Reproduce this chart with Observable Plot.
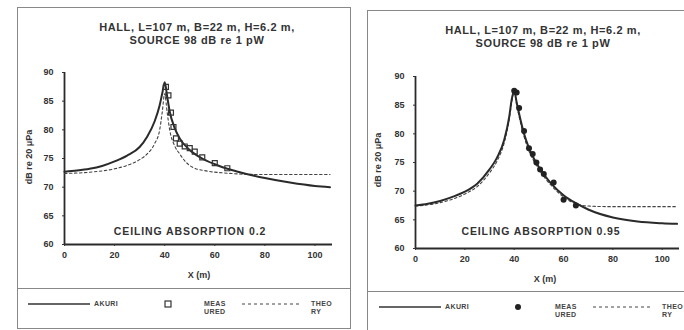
<!DOCTYPE html>
<html><head><meta charset="utf-8">
<script src="https://cdn.jsdelivr.net/npm/d3@7"></script>
<script src="https://cdn.jsdelivr.net/npm/@observablehq/plot@0.6"></script>
<style>
html,body{margin:0;padding:0;background:#fff;width:684px;height:330px;overflow:hidden;font-family:"Liberation Sans",Arial,sans-serif;color:#333;}
.abs{position:absolute;}
.frame{position:absolute;border:1.5px solid #888;box-sizing:border-box;}
.title{position:absolute;text-align:center;font-weight:bold;font-size:11px;line-height:13px;color:#333;letter-spacing:0.6px;white-space:nowrap;}
.note{position:absolute;font-size:10.5px;color:#333;font-weight:bold;white-space:nowrap;transform:translateX(-50%);letter-spacing:0.9px;}
.ylab{position:absolute;font-size:9px;font-weight:bold;color:#333;white-space:nowrap;transform:translate(-50%,-50%) rotate(-90deg);}
.xlab{position:absolute;font-size:9px;font-weight:bold;color:#333;white-space:nowrap;transform:translateX(-50%);}
.lg{position:absolute;font-size:7px;font-weight:bold;color:#444;line-height:8px;letter-spacing:0.4px;}
.sep{position:absolute;height:0;border-top:1.5px solid #888;}
</style></head>
<body>
<script>
// ---- data ----
const xTicks = [0, 20, 40, 60, 80, 100];
const yTicks = [60, 65, 70, 75, 80, 85, 90];

// Left panel: ceiling absorption 0.2
const leftAkuriX = [0,5,10,15,20,25,30,33,36,38,39,40,41,42,44,46,50,55,60,65,70,80,90,100,106];
const leftAkuriY = [72.7,72.9,73.2,73.7,74.5,75.5,77.0,78.8,81.5,84.3,86.3,88.3,85.8,83.2,80.3,78.5,76.5,75.0,74.0,73.2,72.6,71.6,70.8,70.2,70.0];
const leftTheoX = [0,10,20,25,30,33,36,38,39,40,41,42,44,46,48,51,57,63,70,80,106];
const leftTheoY = [72.4,72.6,73.2,73.8,74.8,75.8,77.6,80.0,83.0,86.3,83.0,80.0,77.2,75.8,74.6,73.5,72.8,72.5,72.3,72.2,72.2];
const leftMeasX = [40.5,41.5,42.5,43.5,44.5,46,48,50,52,55,60,65];
const leftMeasY = [87.5,86.0,83.0,80.5,78.5,77.6,77.1,76.8,76.2,75.2,74.2,73.3];

// Right panel: ceiling absorption 0.95
const rightAkuriX = [0,5,10,15,20,25,30,33,36,38,39,40,41,42,44,46,50,55,60,65,70,80,90,100,106];
const rightAkuriY = [67.5,67.8,68.3,69.0,69.9,71.3,73.8,75.8,79.0,83.0,86.0,87.5,85.5,83.5,80.0,77.5,74.2,71.3,69.3,67.9,66.8,65.4,64.7,64.4,64.3];
const rightTheoX = [0,10,20,25,30,33,36,38,39,40,41,42,44,46,50,55,60,65,70,80,106];
const rightTheoY = [67.4,68.0,69.5,70.8,73.2,75.2,78.5,82.5,85.5,87.3,85.0,83.0,79.5,77.0,73.8,71.0,69.0,67.8,67.4,67.3,67.3];
const rightMeasX = [40,41,42,44,46,47.5,49,50.5,52,56,60,65];
const rightMeasY = [87.5,87.2,84.5,80.5,77.5,76.5,75.0,73.8,73.0,71.5,68.5,67.5];

const titleLines = ["HALL, L=107 m, B=22 m, H=6.2 m,", "SOURCE 98 dB re 1 pW"];

function zip(xs, ys){ return xs.map((x,i)=>({x, y: ys[i]})); }

function panel(cfg){
  const ink = "#2a2a2a";
  const marks = [
    Plot.ruleY([60], {stroke: ink, strokeWidth: 1.8}),
    Plot.ruleX([0], {stroke: ink, strokeWidth: 1.8}),
    Plot.axisX({ticks: xTicks, tickSize: 2, tickPadding: 5, label: null, fontSize: 9, fontWeight: "bold", color: "#333"}),
    Plot.axisY({ticks: yTicks, tickSize: 2, tickPadding: 9, label: null, fontSize: 9, fontWeight: "bold", color: "#333"}),
    Plot.line(zip(cfg.theoX, cfg.theoY), {x: "x", y: "y", stroke: "#444", strokeWidth: 1.1, strokeDasharray: "2.5,2.5", curve: "monotone-x"}),
    Plot.line(zip(cfg.akuriX, cfg.akuriY), {x: "x", y: "y", stroke: ink, strokeWidth: 2, curve: "monotone-x"}),
    Plot.dot(zip(cfg.measX, cfg.measY), cfg.square
      ? {x: "x", y: "y", symbol: "square", r: 2.8, stroke: "#333", strokeWidth: 1.2, fill: "none"}
      : {x: "x", y: "y", r: 3, fill: "#222", stroke: "none"})
  ];
  return Plot.plot({
    width: cfg.width, height: cfg.height,
    marginLeft: cfg.ml, marginRight: cfg.mr, marginTop: cfg.mt, marginBottom: cfg.mb,
    x: {domain: [0, 107]},
    y: {domain: [60, 90]},
    style: {background: "transparent", fontFamily: "Liberation Sans, Arial, sans-serif"},
    marks
  });
}

function add(el, left, top){ el.style.position="absolute"; el.style.left=left+"px"; el.style.top=top+"px"; document.body.appendChild(el); }
function html(s){ const d=document.createElement("div"); d.innerHTML=s; return d.firstElementChild; }

function legend(x0, y0, square){
  const svg = `<svg class="abs" style="left:0;top:0;overflow:visible" width="684" height="330">
    <line x1="${x0}" y1="${y0}" x2="${x0+62}" y2="${y0}" stroke="#333" stroke-width="1.5"/>
    ${square ? `<rect x="${x0+137}" y="${y0-3}" width="6" height="6" fill="none" stroke="#333" stroke-width="1.2"/>`
             : `<circle cx="${x0+139}" cy="${y0}" r="3" fill="#222"/>`}
    <line x1="${x0+214}" y1="${y0}" x2="${x0+274}" y2="${y0}" stroke="#444" stroke-width="1" stroke-dasharray="3,3"/>
  </svg>`;
  document.body.appendChild(html(svg));
  add(html(`<div class="lg">AKURI</div>`), x0+66, y0-4);
  add(html(`<div class="lg">MEAS<br>URED</div>`), x0+176, y0-4);
  add(html(`<div class="lg">THEO<br>RY</div>`), x0+283, y0-4);
}

// frames
add(html(`<div class="frame" style="width:334px;height:322px"></div>`), 17, 7);
add(html(`<div class="frame" style="width:330px;height:330px"></div>`), 367, 10);
add(html(`<div class="sep" style="width:334px"></div>`), 17, 288);
add(html(`<div class="sep" style="width:330px"></div>`), 367, 291);

// titles
add(html(`<div class="title" style="width:300px">${titleLines.join("<br>")}</div>`), 47, 21);
add(html(`<div class="title" style="width:300px">${titleLines.join("<br>")}</div>`), 393, 24);

// plots
add(panel({width: 340, height: 229, ml: 64, mr: 8, mt: 17, mb: 40,
  akuriX: leftAkuriX, akuriY: leftAkuriY, theoX: leftTheoX, theoY: leftTheoY,
  measX: leftMeasX, measY: leftMeasY, square: true}), 0, 55);
add(panel({width: 334, height: 230, ml: 65, mr: 5, mt: 18, mb: 40,
  akuriX: rightAkuriX, akuriY: rightAkuriY, theoX: rightTheoX, theoY: rightTheoY,
  measX: rightMeasX, measY: rightMeasY, square: false}), 350, 58);

// annotations
add(html(`<div class="note">CEILING ABSORPTION 0.2</div>`), 190, 225);
add(html(`<div class="note">CEILING ABSORPTION 0.95</div>`), 541, 225);
add(html(`<div class="ylab">dB re 20 μPa</div>`), 29, 157);
add(html(`<div class="ylab">dB re 20 μPa</div>`), 378, 160);
add(html(`<div class="xlab">X (m)</div>`), 199, 270);
add(html(`<div class="xlab">X (m)</div>`), 545, 274);

legend(28, 304, true);
legend(379, 307, false);
</script>
</body></html>
